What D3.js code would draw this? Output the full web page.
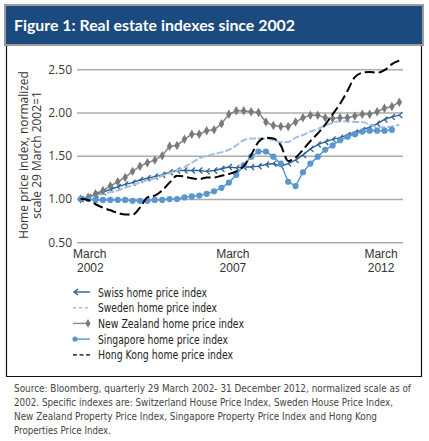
<!DOCTYPE html>
<html>
<head>
<meta charset="utf-8">
<script src="https://cdn.jsdelivr.net/npm/d3@7/dist/d3.min.js"></script>
<style>
body { margin: 0; background: #fff; }
text { font-family: "Open Sans", "Noto Sans", sans-serif; }
</style>
</head>
<body>
<svg id="chart" width="429" height="441"></svg>
<script>
//quarterly observations, 29 March 2002 to 31 December 2012
var quarters = ["2002-03","2002-06","2002-09","2002-12","2003-03","2003-06","2003-09","2003-12",
  "2004-03","2004-06","2004-09","2004-12","2005-03","2005-06","2005-09","2005-12",
  "2006-03","2006-06","2006-09","2006-12","2007-03","2007-06","2007-09","2007-12",
  "2008-03","2008-06","2008-09","2008-12","2009-03","2009-06","2009-09","2009-12",
  "2010-03","2010-06","2010-09","2010-12","2011-03","2011-06","2011-09","2011-12",
  "2012-03","2012-06","2012-09","2012-12"];

//index values, normalized 29 March 2002 = 1
var swiss = [1.00,1.02,1.05,1.08,1.11,1.14,1.17,1.19,1.22,1.24,1.26,1.28,1.31,1.33,1.33,1.33,
  1.33,1.32,1.33,1.35,1.37,1.36,1.37,1.37,1.38,1.40,1.41,1.38,1.41,1.45,1.51,1.58,
  1.63,1.66,1.69,1.71,1.74,1.77,1.80,1.83,1.87,1.92,1.95,1.97];
var sweden = [1.00,1.02,1.04,1.06,1.08,1.10,1.13,1.16,1.19,1.22,1.24,1.27,1.30,1.33,1.37,1.42,
  1.47,1.50,1.52,1.54,1.57,1.62,1.68,1.70,1.70,1.70,1.68,1.66,1.66,1.71,1.74,1.78,
  1.81,1.85,1.88,1.90,1.90,1.89,1.89,1.86,1.83,1.83,1.84,1.86];
var newZealand = [1.00,1.02,1.06,1.10,1.15,1.20,1.25,1.32,1.38,1.42,1.45,1.50,1.61,1.62,1.69,1.75,
  1.75,1.79,1.80,1.87,1.98,2.02,2.02,2.01,2.00,1.89,1.85,1.84,1.84,1.89,1.94,1.97,
  1.97,1.94,1.93,1.94,1.94,1.96,1.98,1.98,2.01,2.05,2.07,2.12];
var singapore = [1.00,1.00,0.99,0.99,0.99,0.99,0.99,0.98,0.98,0.98,0.99,0.99,1.00,1.00,1.02,1.03,
  1.04,1.06,1.09,1.13,1.19,1.28,1.39,1.49,1.55,1.55,1.49,1.41,1.20,1.15,1.31,1.41,
  1.49,1.57,1.62,1.68,1.72,1.75,1.78,1.79,1.79,1.79,1.80];
var hongKong = [1.00,0.99,0.94,0.90,0.87,0.84,0.82,0.82,0.90,1.02,1.04,1.10,1.19,1.27,1.26,1.24,
  1.23,1.25,1.25,1.27,1.29,1.32,1.38,1.51,1.66,1.71,1.70,1.62,1.44,1.48,1.57,1.67,
  1.76,1.86,1.98,2.10,2.25,2.41,2.46,2.47,2.46,2.49,2.56,2.60];

//axis ticks
var yTicks = [0.5, 1.0, 1.5, 2.0, 2.5];
var xTickQuarters = ["2002-03","2007-03","2012-03"];
var xTickMonths = ["March","March","March"];
var xTickYears = ["2002","2007","2012"];

var legendNames = ["Swiss home price index","Sweden home price index","New Zealand home price index",
  "Singapore home price index","Hong Kong home price index"];

var footnote = ["Source: Bloomberg, quarterly 29 March 2002- 31 December 2012, normalized scale as of",
  "2002. Specific indexes are: Switzerland House Price Index, Sweden House Price Index,",
  "New Zealand Property Price Index, Singapore Property Price Index and Hong Kong",
  "Properties Price Index."];

var svg = d3.select("#chart");

//title bar
svg.append("rect")
  .attr("x", 5).attr("y", 5).attr("width", 418).attr("height", 40)
  .attr("fill", "#1b4a7e").attr("stroke", "#9c9c9c").attr("stroke-width", 2);
svg.append("text")
  .attr("x", 14).attr("y", 31)
  .attr("fill", "#fff").attr("font-weight", "bold").attr("font-size", 15)
  .style("font-family", "Lato, 'Open Sans', sans-serif")
  .attr("textLength", 281).attr("lengthAdjust", "spacingAndGlyphs")
  .text("Figure 1: Real estate indexes since 2002");

//black frame around the chart
svg.append("path")
  .attr("d", "M6.5,46V376.5H421.5V46")
  .attr("fill", "none").attr("stroke", "#111").attr("stroke-width", 1.2);

//scales
var xScale = d3.scaleBand().domain(quarters).range([77, 403]);
var cx = function(q) { return xScale(q) + xScale.bandwidth() / 2; };
var yScale = d3.scaleLinear().domain([0.5, 2.5]).range([242.3, 69.3]);

//gridlines and y labels
var yAxis = d3.axisLeft(yScale)
  .tickValues(yTicks)
  .tickSize(-(403 - 77))
  .tickPadding(5)
  .tickFormat(d3.format(".2f"));
var gy = svg.append("g").attr("transform", "translate(77,0)").call(yAxis);
gy.select(".domain").remove();
gy.selectAll("line").attr("stroke", "#ababab").attr("stroke-width", 1.5);
gy.selectAll("text").attr("fill", "#3a3a3a").attr("font-size", 12)
  .style("font-family", "'Open Sans', sans-serif");

//y axis title
var yTitle = ["Home price index, normalized", "scale 29 March 2002=1"];
svg.selectAll(".ytitle")
  .data(yTitle)
  .enter()
  .append("text")
  .attr("class", "ytitle")
  .attr("transform", function(d, i) { return "translate(" + (27.5 + i * 13) + ",155) rotate(-90)"; })
  .attr("text-anchor", "middle")
  .attr("font-size", 12)
  .attr("fill", "#333")
  .text(function(d) { return d; });

//x labels: month line and year line
function xLabelPos(d, i) { return i === 0 ? xScale(d) - 4 : cx(d) + 4; }
svg.selectAll(".xmonth")
  .data(xTickQuarters)
  .enter()
  .append("text")
  .attr("class", "xmonth")
  .attr("x", xLabelPos)
  .attr("y", 258)
  .attr("font-size", 12).attr("fill", "#333")
  .style("font-family", "'Liberation Sans', Arial, sans-serif")
  .attr("text-anchor", function(d, i) { return i === 0 ? "start" : "middle"; })
  .text(function(d, i) { return xTickMonths[i]; });
svg.selectAll(".xyear")
  .data(xTickQuarters)
  .enter()
  .append("text")
  .attr("class", "xyear")
  .attr("x", function(d, i) { return xLabelPos(d, i) + (i === 0 ? 4 : 0); })
  .attr("y", 272)
  .attr("font-size", 12).attr("fill", "#333")
  .style("font-family", "'Liberation Sans', Arial, sans-serif")
  .attr("text-anchor", function(d, i) { return i === 0 ? "start" : "middle"; })
  .text(function(d, i) { return xTickYears[i]; });

//line generator on quarterly index
function lineFor(curve) {
  return d3.line()
    .x(function(d, i) { return cx(quarters[i]); })
    .y(function(d) { return yScale(d); })
    .curve(curve);
}

var plot = svg.append("g");

//Swiss
plot.append("path").datum(swiss)
  .attr("d", lineFor(d3.curveLinear))
  .attr("fill", "none").attr("stroke", "#2b5f96").attr("stroke-width", 1.4);
plot.selectAll(".swissmark").data(swiss).enter().append("path")
  .attr("class", "swissmark")
  .attr("d", function(d, i) {
    var px = cx(quarters[i]), py = yScale(d);
    return "M" + (px + 3) + "," + (py - 3) + "L" + px + "," + py + "L" + (px + 3) + "," + (py + 3);
  })
  .attr("fill", "none").attr("stroke", "#2b5f96").attr("stroke-width", 1.3);

//Sweden
plot.append("path").datum(sweden)
  .attr("d", lineFor(d3.curveMonotoneX))
  .attr("fill", "none").attr("stroke", "#a3bfe2").attr("stroke-width", 2)
  .attr("stroke-dasharray", "7,2");

//New Zealand
plot.append("path").datum(newZealand)
  .attr("d", lineFor(d3.curveLinear))
  .attr("fill", "none").attr("stroke", "#858585").attr("stroke-width", 1.5);
plot.selectAll(".nzmark").data(newZealand).enter().append("path")
  .attr("class", "nzmark")
  .attr("transform", function(d, i) { return "translate(" + cx(quarters[i]) + "," + yScale(d) + ")"; })
  .attr("d", d3.symbol(d3.symbolDiamond, 26))
  .attr("fill", "#7a7a7a");

//Singapore
plot.append("path").datum(singapore)
  .attr("d", lineFor(d3.curveLinear))
  .attr("fill", "none").attr("stroke", "#5a96d0").attr("stroke-width", 1.5);
plot.selectAll(".sgmark").data(singapore).enter().append("circle")
  .attr("class", "sgmark")
  .attr("cx", function(d, i) { return cx(quarters[i]); })
  .attr("cy", function(d) { return yScale(d); })
  .attr("r", 3.1)
  .attr("fill", "#5a96d0");

//Hong Kong
plot.append("path").datum(hongKong)
  .attr("d", lineFor(d3.curveMonotoneX))
  .attr("fill", "none").attr("stroke", "#000").attr("stroke-width", 2)
  .attr("stroke-dasharray", "10,4");

//legend
var legend = svg.append("g");
var item = legend.selectAll(".item")
  .data(legendNames)
  .enter()
  .append("g")
  .attr("class", "item")
  .attr("transform", function(d, i) { return "translate(0," + (292 + i * 15.7) + ")"; });

var legendWidths = [109, 119, 146, 130, 135];
item.append("text")
  .attr("x", 98).attr("dy", "0.35em")
  .attr("font-size", 13).attr("fill", "#222")
  .style("font-family", "'Liberation Sans Narrow', 'DejaVu Sans Condensed', sans-serif")
  .attr("textLength", function(d, i) { return legendWidths[i]; })
  .attr("lengthAdjust", "spacingAndGlyphs")
  .text(function(d) { return d; });

var sym = [
  function(g) {
    g.append("line").attr("x1", 74).attr("x2", 90).attr("stroke", "#2b5f96").attr("stroke-width", 1.4);
    g.append("path").attr("d", "M78,-3L74,0L78,3").attr("fill", "none").attr("stroke", "#2b5f96").attr("stroke-width", 1.4);
  },
  function(g) {
    g.append("line").attr("x1", 73).attr("x2", 90).attr("stroke", "#a3bfe2").attr("stroke-width", 1.6)
      .attr("stroke-dasharray", "3,3");
  },
  function(g) {
    g.append("line").attr("x1", 73).attr("x2", 88).attr("stroke", "#858585").attr("stroke-width", 1.3);
    g.append("path").attr("transform", "translate(88,0)").attr("d", d3.symbol(d3.symbolDiamond, 22)).attr("fill", "#7a7a7a");
  },
  function(g) {
    g.append("line").attr("x1", 75).attr("x2", 90).attr("stroke", "#5a96d0").attr("stroke-width", 1.4);
    g.append("circle").attr("cx", 75).attr("r", 2.6).attr("fill", "#5a96d0");
  },
  function(g) {
    g.append("line").attr("x1", 73).attr("x2", 90).attr("stroke", "#000").attr("stroke-width", 1.3)
      .attr("stroke-dasharray", "4,2.5");
  }
];
item.each(function(d, i) { sym[i](d3.select(this)); });

//source note
var footWidths = [397, 379, 363, 97];
svg.selectAll(".foot")
  .data(footnote)
  .enter()
  .append("text")
  .attr("class", "foot")
  .attr("x", 14)
  .attr("y", function(d, i) { return 391.5 + i * 14; })
  .attr("font-size", 10.2)
  .attr("fill", "#444")
  .style("font-family", "'Liberation Sans Narrow', 'DejaVu Sans Condensed', sans-serif")
  .attr("textLength", function(d, i) { return footWidths[i]; })
  .attr("lengthAdjust", "spacingAndGlyphs")
  .text(function(d) { return d; });
</script>
</body>
</html>
